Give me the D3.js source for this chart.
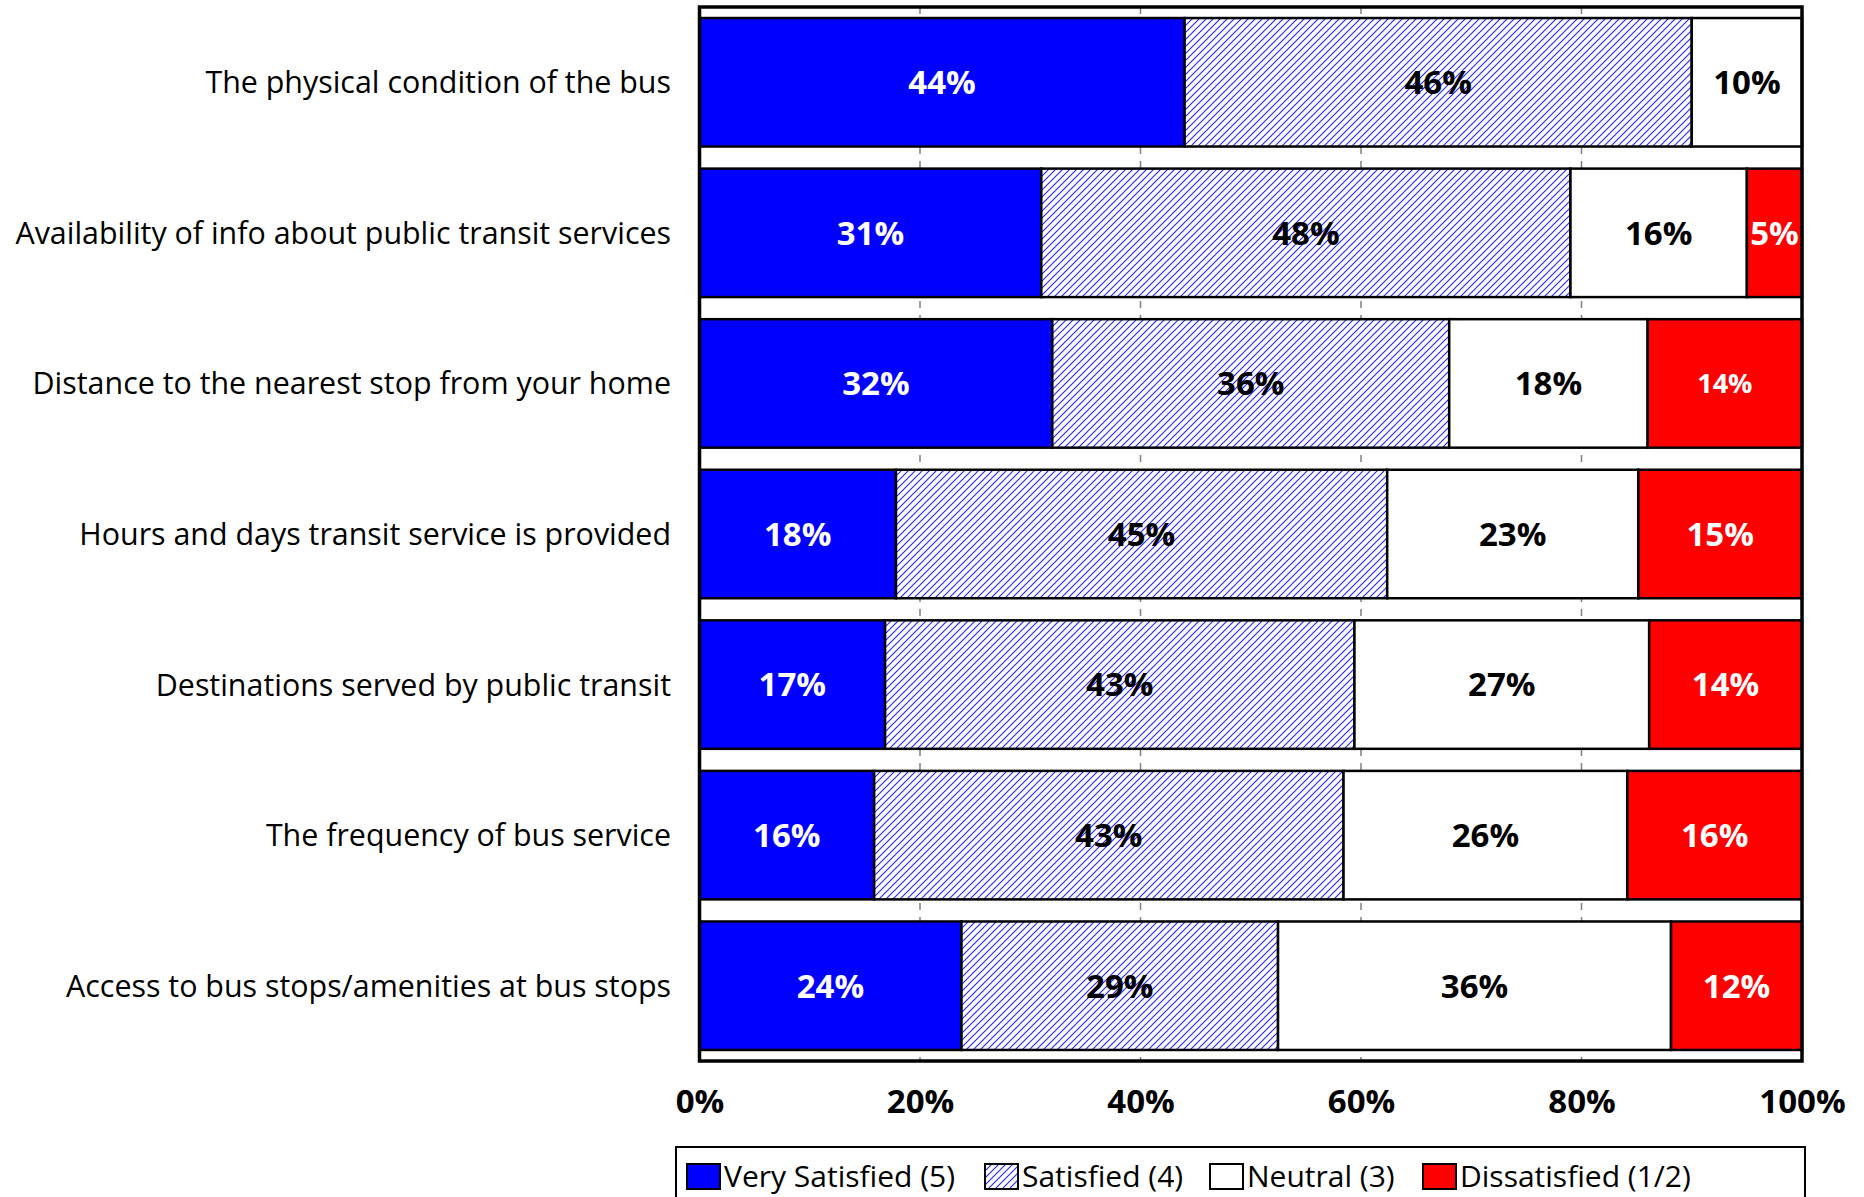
<!DOCTYPE html>
<html>
<head>
<meta charset="utf-8">
<script src="https://cdn.jsdelivr.net/npm/d3@7"></script>
<style>
  html, body { margin: 0; padding: 0; background: #fff; }
  svg { display: block; }
  text { font-family: "Open Sans", Lato, sans-serif; }
</style>
</head>
<body>
<svg id="chart" width="1864" height="1197"></svg>
<script>
// Survey items, top to bottom
const categories = [
  "The physical condition of the bus",
  "Availability of info about public transit services",
  "Distance to the nearest stop from your home",
  "Hours and days transit service is provided",
  "Destinations served by public transit",
  "The frequency of bus service",
  "Access to bus stops/amenities at bus stops"
];

// Response shares (%) per item
const verySatisfied = [44, 31, 32, 18, 17, 16, 24];
const satisfied     = [46, 48, 36, 45, 43, 43, 29];
const neutral       = [10, 16, 18, 23, 27, 26, 36];
const dissatisfied  = [0, 5, 14, 15, 14, 16, 12];

const seriesNames = ["Very Satisfied (5)", "Satisfied (4)", "Neutral (3)", "Dissatisfied (1/2)"];
const tickValues = [0, 0.2, 0.4, 0.6, 0.8, 1.0];

const svg = d3.select("#chart");

// hatch fill for "Satisfied"
const defs = svg.append("defs");
const pat = defs.append("pattern")
  .attr("id", "hatch")
  .attr("patternUnits", "userSpaceOnUse")
  .attr("width", 7).attr("height", 7);
pat.append("rect").attr("width", 7).attr("height", 7).attr("fill", "#fff");
pat.append("path")
  .attr("d", "M-1,1 l2,-2 M0,7 l7,-7 M6,8 l2,-2")
  .attr("stroke", "#2222ff").attr("stroke-width", 1.1);

const plotLeft = 699.5, plotRight = 1802, plotTop = 7, plotBottom = 1061;

const x = d3.scaleLinear().domain([0, 1]).range([plotLeft, plotRight]);
const y = d3.scaleBand().domain(categories).range([plotTop, plotBottom])
  .paddingInner(0.1467).paddingOuter(0.0733);

const fills = ["#0000ff", "url(#hatch)", "#ffffff", "#ff0000"];
const textColors = ["#ffffff", "#000000", "#000000", "#ffffff"];

// rows normalized to 100% like a percent-stacked bar
const rows = categories.map((c, i) => {
  const vals = [verySatisfied[i], satisfied[i], neutral[i], dissatisfied[i]];
  const total = d3.sum(vals);
  let cum = 0;
  const segs = vals.map((v, k) => {
    const s = { cat: c, row: i, k, v, x0: cum / total, x1: (cum + v) / total };
    cum += v;
    return s;
  });
  return segs.filter(s => s.v > 0);
});

// dashed vertical gridlines
svg.append("g").selectAll("line")
  .data(tickValues.slice(1, -1))
  .join("line")
  .attr("x1", d => x(d)).attr("x2", d => x(d))
  .attr("y1", plotTop).attr("y2", plotBottom)
  .attr("stroke", "#808080").attr("stroke-width", 1.5)
  .attr("stroke-dasharray", "7,7");

const segs = rows.flat();

svg.append("g").selectAll("rect")
  .data(segs)
  .join("rect")
  .attr("x", d => x(d.x0))
  .attr("y", d => y(d.cat))
  .attr("width", d => x(d.x1) - x(d.x0))
  .attr("height", y.bandwidth())
  .attr("fill", d => fills[d.k])
  .attr("stroke", "#000")
  .attr("stroke-width", 2.5);

// value labels
svg.append("g").selectAll("text")
  .data(segs)
  .join("text")
  .attr("x", d => (x(d.x0) + x(d.x1)) / 2)
  .attr("y", d => y(d.cat) + y.bandwidth() / 2)
  .attr("dy", "0.36em")
  .attr("text-anchor", "middle")
  .attr("font-weight", "bold")
  .attr("font-size", d => (d.row === 2 && d.k === 3) ? 27 : 33)
  .attr("fill", d => textColors[d.k])
  .text(d => d.v + "%");

// plot frame
svg.append("rect")
  .attr("x", plotLeft).attr("y", plotTop)
  .attr("width", plotRight - plotLeft).attr("height", plotBottom - plotTop)
  .attr("fill", "none").attr("stroke", "#000").attr("stroke-width", 3.5);

// category labels
svg.append("g").selectAll("text")
  .data(categories)
  .join("text")
  .attr("x", 671)
  .attr("y", d => y(d) + y.bandwidth() / 2)
  .attr("dy", "0.36em")
  .attr("text-anchor", "end")
  .attr("font-size", 30.4)
  .attr("fill", "#000")
  .text(d => d);

// x axis tick labels
const xAxis = d3.axisBottom(x).tickValues(tickValues).tickFormat(d3.format(".0%")).tickSize(0).tickPadding(0);
const ax = svg.append("g").attr("transform", `translate(0,${1101})`).call(xAxis);
ax.select(".domain").remove();
ax.selectAll("text")
  .attr("y", 0)
  .attr("font-size", 33).attr("font-weight", "bold").attr("fill", "#000")
  .attr("font-family", "'Open Sans', Lato, sans-serif")
  .attr("dy", "0.36em");

// legend
const lg = svg.append("g");
lg.append("rect").attr("x", 676).attr("y", 1147).attr("width", 1129).attr("height", 70)
  .attr("fill", "#fff").attr("stroke", "#000").attr("stroke-width", 2);
const legendX = [687, 985, 1210, 1423];
const items = lg.selectAll("g.item").data(seriesNames).join("g").attr("class", "item")
  .attr("transform", (d, i) => `translate(${legendX[i]},1164)`);
items.append("rect").attr("width", 33).attr("height", 25)
  .attr("fill", (d, i) => fills[i]).attr("stroke", "#000").attr("stroke-width", 2);
items.append("text").attr("x", 37).attr("y", 12.5).attr("dy", "0.36em")
  .attr("font-size", 30).attr("fill", "#000").text(d => d);
</script>
</body>
</html>
